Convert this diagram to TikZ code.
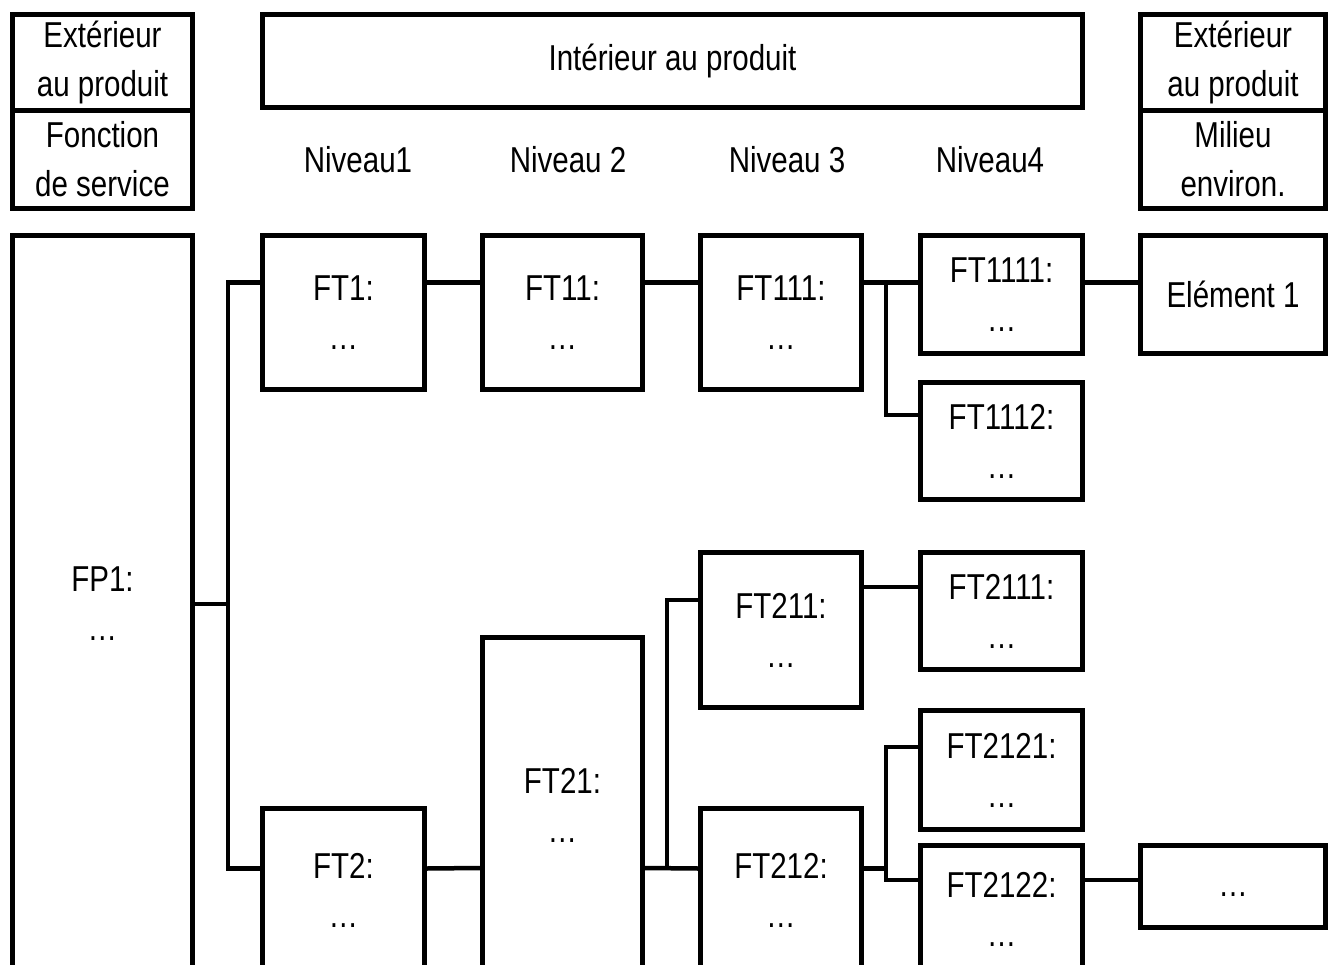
\documentclass[tikz,border=0pt]{standalone}
\usepackage{fontspec}
\setmainfont[FakeStretch=0.82]{Liberation Sans}
\usetikzlibrary{positioning,calc}
\definecolor{FastInk}{HTML}{000000}
\tikzset{
  fast text/.style={font=\fontsize{36}{49}\selectfont, text=FastInk, align=center},
  fast box/.style={fast text, draw=FastInk, line width=5pt, inner sep=0pt},
  fast link/.style={draw=FastInk, line width=4.5pt, line join=miter},
}

\begin{document}
\begin{tikzpicture}[x=1pt,y=-1pt]
  \useasboundingbox (0,0) rectangle (1333,965);

  % header
  \node[fast box, minimum width=180, minimum height=96] (ext1) at (102.5,62.5) {Extérieur\\au produit};
  \node[fast box, minimum width=180, minimum height=98] (fs) at (102.5,159.5) {Fonction\\de service};
  \node[fast box, minimum width=820, minimum height=93] (int) at (672.5,61) {Intérieur au produit};
  \node[fast box, minimum width=185, minimum height=96] (ext2) at (1233,62.5) {Extérieur\\au produit};
  \node[fast box, minimum width=185, minimum height=98] (env) at (1233,159.5) {Milieu\\environ.};

  \node[fast text] (lvl1) at (358,160) {Niveau1};
  \node[fast text] (lvl2) at (568,160) {Niveau 2};
  \node[fast text] (lvl3) at (787,160) {Niveau 3};
  \node[fast text] (lvl4) at (990,160) {Niveau4};

  % service function
  \node[fast box, minimum width=180, minimum height=737] (fp1) at (102.5,604) {FP1:\\\dots};

  % branch 1
  \node[fast box, minimum width=162, minimum height=154] (ft1) at (343.5,312.5) {FT1:\\\dots};
  \node[fast box, minimum width=160, minimum height=154] (ft11) at (562.5,312.5) {FT11:\\\dots};
  \node[fast box, minimum width=161, minimum height=154] (ft111) at (781,312.5) {FT111:\\\dots};
  \node[fast box, minimum width=162, minimum height=118] (ft1111) at (1001.5,294.5) {FT1111:\\\dots};
  \node[fast box, minimum width=162, minimum height=117] (ft1112) at (1001.5,441) {FT1112:\\\dots};
  \node[fast box, minimum width=185, minimum height=118] (el1) at (1233,294.5) {Elément 1};

  % branch 2
  \node[fast box, minimum width=162, minimum height=164] (ft2) at (343.5,890.5) {FT2:\\\dots};
  \node[fast box, minimum width=160, minimum height=335] (ft21) at (562.5,805) {FT21:\\\dots};
  \node[fast box, minimum width=161, minimum height=155] (ft211) at (781,630) {FT211:\\\dots};
  \node[fast box, minimum width=161, minimum height=164] (ft212) at (781,890.5) {FT212:\\\dots};
  \node[fast box, minimum width=162, minimum height=117] (ft2111) at (1001.5,611) {FT2111:\\\dots};
  \node[fast box, minimum width=162, minimum height=119] (ft2121) at (1001.5,770) {FT2121:\\\dots};
  \node[fast box, minimum width=162, minimum height=127] (ft2122) at (1001.5,909) {FT2122:\\\dots};
  \node[fast box, minimum width=185, minimum height=82] (el2) at (1233,886.5) {\strut\dots};

  % links
  \draw[fast link] (fp1.east) -- ++(33,0) coordinate (bus1);
  \draw[fast link] ([yshift=30pt]ft1.west) -| (bus1) |- ([yshift=22pt]ft2.west);
  \draw[fast link] ([yshift=30pt]ft1.east) -- ([yshift=30pt]ft11.west);
  \draw[fast link] ([yshift=30pt]ft11.east) -- ([yshift=30pt]ft111.west);
  \draw[fast link] ([yshift=30pt]ft111.east) -- ([yshift=12pt]ft1111.west);
  \draw[fast link] ([yshift=30pt]ft111.east) -- ++(22,0) |- ([yshift=26pt]ft1112.west);
  \draw[fast link] ([yshift=12pt]ft1111.east) -- ([yshift=12pt]el1.west);

  \draw[fast link] ([yshift=22pt]ft2.east) -- ([yshift=-63pt]ft21.west);
  \draw[fast link] ([yshift=-63pt]ft21.east) -- ([yshift=22pt]ft212.west);
  \draw[fast link] ([yshift=-63pt]ft21.east) -- ++(22,0) |- ([yshift=30pt]ft211.west);
  \draw[fast link] ([yshift=43pt]ft211.east) -- ([yshift=24pt]ft2111.west);
  \draw[fast link] ([yshift=22pt]ft212.east) -- ++(22,0) |- ([yshift=23pt]ft2121.west);
  \draw[fast link] ([yshift=22pt]ft212.east) -- ++(22,0) |- ([yshift=29pt]ft2122.west);
  \draw[fast link] ([yshift=29pt]ft2122.east) -- ([yshift=6.5pt]el2.west);
\end{tikzpicture}
\end{document}
